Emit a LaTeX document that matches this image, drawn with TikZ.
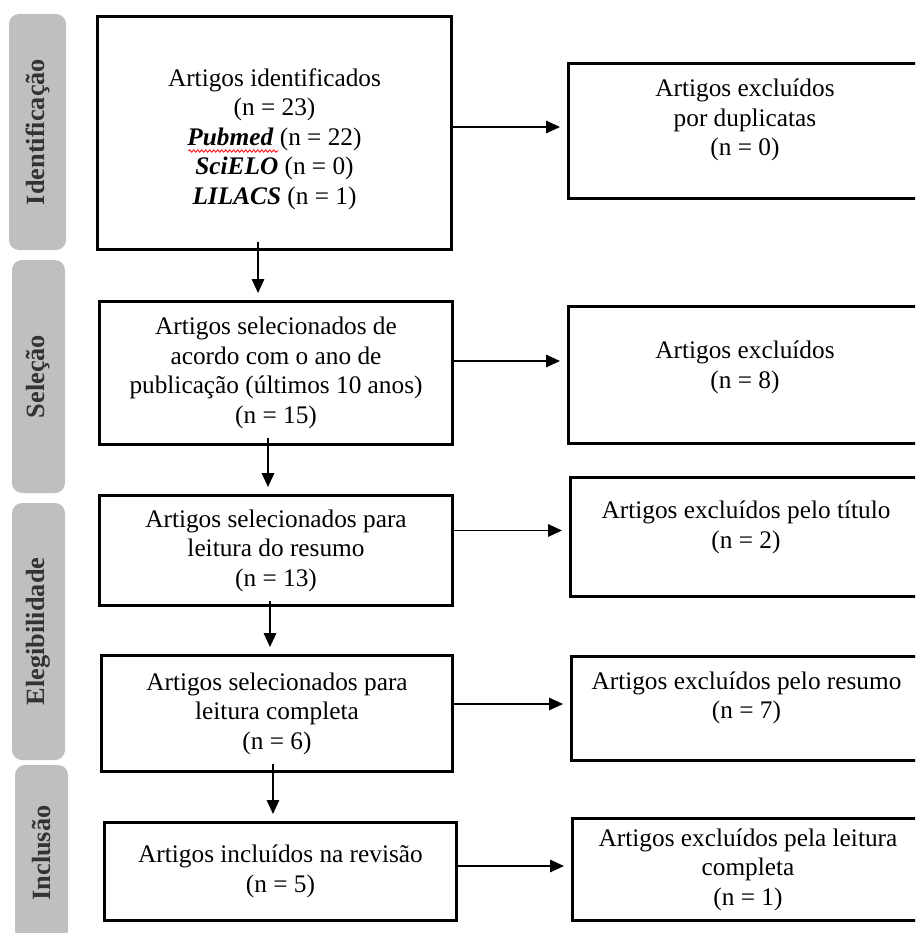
\documentclass[tikz,border=0pt]{standalone}
\usepackage{fontspec}
\setmainfont{Liberation Serif}
\usetikzlibrary{arrows.meta,decorations.pathmorphing}

\tikzset{
  box/.style={draw, line width=3pt, align=center, inner sep=2pt, font=\fontsize{25.3}{29.5}\selectfont},
  tab/.style={fill=gray!50, rounded corners=10pt, rotate=90, text=black!80, inner sep=0pt, font=\fontsize{26.3}{30}\selectfont\bfseries},
  arr/.style={line width=1.6pt, -{Triangle[length=14pt,width=12.5pt]}},
  spell/.style={red, line width=0.8pt, decorate, decoration={snake, amplitude=1.2pt, segment length=4pt}}
}

\begin{document}
\begin{tikzpicture}[x=1pt,y=-1pt]
\useasboundingbox (0,0) rectangle (915,933);
\clip (0,0) rectangle (915,933);
\node[tab, minimum width=236pt, minimum height=57pt] (tabid) at (37.5,132) {Identificação};
\node[tab, minimum width=233pt, minimum height=53pt] (tabsel) at (38.5,376.5) {Seleção};
\node[tab, minimum width=257pt, minimum height=53pt] (tabeleg) at (38.5,631.5) {Elegibilidade};
\node[tab, minimum width=176pt, minimum height=53pt] (tabinc) at (41.5,853) {Inclusão};
\node[box, minimum width=354pt, minimum height=232pt, text height=148pt] (ident) at (274.5,133) {Artigos identificados\\(n = 23)\\\textbf{\textit{Pubmed}} (n = 22)\\\textbf{\textit{SciELO}} (n = 0)\\\textbf{\textit{LILACS}} (n = 1)};
\node[box, minimum width=353pt, minimum height=143pt] (sel) at (276,373) {Artigos selecionados de\\acordo com o ano de\\publicação (últimos 10 anos)\\(n = 15)};
\node[box, minimum width=353pt, minimum height=110pt] (leres) at (276,550.5) {Artigos selecionados para\\leitura do resumo\\(n = 13)};
\node[box, minimum width=351pt, minimum height=116pt] (lecomp) at (277,713.5) {Artigos selecionados para\\leitura completa\\(n = 6)};
\node[box, minimum width=352pt, minimum height=98pt] (incl) at (280.5,871.5) {Artigos incluídos na revisão\\(n = 5)};
\node[box, minimum width=353pt, minimum height=135pt, text depth=27pt] (dup) at (745,131) {Artigos excluídos\\por duplicatas\\(n = 0)};
\node[box, minimum width=353pt, minimum height=137pt, text depth=21pt] (ano) at (745,375) {Artigos excluídos\\(n = 8)};
\node[box, minimum width=351pt, minimum height=119pt, text depth=25pt] (tit) at (746,537) {Artigos excluídos pelo título\\(n = 2)};
\node[box, minimum width=350pt, minimum height=104pt, text depth=27pt] (res) at (746.5,708.5) {Artigos excluídos pelo resumo\\(n = 7)};
\node[box, minimum width=351pt, minimum height=102pt] (comp) at (748,869.5) {Artigos excluídos pela leitura\\completa\\(n = 1)};
\draw[spell] ([xshift=-86pt,yshift=-18pt]ident.center) -- ([xshift=4pt,yshift=-18pt]ident.center);
\coordinate (v1) at ([xshift=-16.5pt]ident.south);
\coordinate (v2) at ([xshift=-8pt]sel.south);
\coordinate (v3) at ([xshift=-6pt]leres.south);
\coordinate (v4) at ([xshift=-4pt]lecomp.south);
\draw[arr, shorten <=-9pt, shorten >=7pt] (v1) -- (v1 |- sel.north);
\draw[arr, shorten <=-8pt, shorten >=7pt] (v2) -- (v2 |- leres.north);
\draw[arr, shorten <=-6pt, shorten >=7pt] (v3) -- (v3 |- lecomp.north);
\draw[arr, shorten <=-9pt, shorten >=7pt] (v4) -- (v4 |- incl.north);
\coordinate (h1) at ([yshift=6pt]ident.east);
\coordinate (h2) at ([yshift=12pt]sel.east);
\coordinate (h3) at ([yshift=20pt]leres.east);
\coordinate (h4) at ([yshift=9.5pt]lecomp.east);
\coordinate (h5) at ([yshift=5.5pt]incl.east);
\draw[arr, shorten >=7pt] (h1) -- (h1 -| dup.west);
\draw[arr, shorten >=7pt] (h2) -- (h2 -| ano.west);
\draw[arr, shorten >=7pt] (h3) -- (h3 -| tit.west);
\draw[arr, shorten >=7pt] (h4) -- (h4 -| res.west);
\draw[arr, shorten >=7pt] (h5) -- (h5 -| comp.west);
\end{tikzpicture}
\end{document}
